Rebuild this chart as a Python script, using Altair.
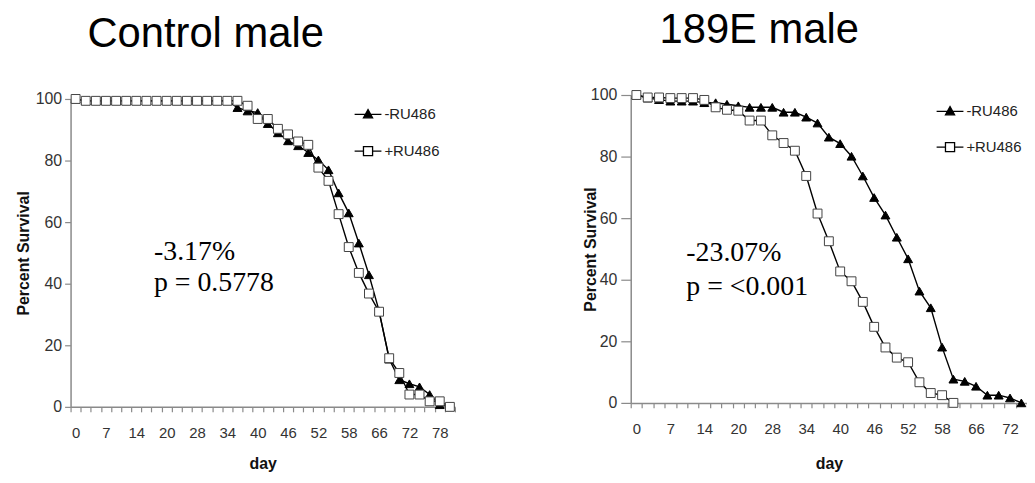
import altair as alt
import pandas as pd

# ---------------- data ----------------
series = ["-RU486", "+RU486"]

days_ctrl = [0, 2, 5, 7, 9, 12, 14, 16, 18, 20, 23, 26, 28, 30, 32, 34, 36, 38, 40,
             42, 44, 46, 48, 50, 52, 54, 56, 58, 61, 64, 66, 68, 70, 72, 74, 76, 78, 80]
days_189e = [0, 2, 5, 7, 9, 12, 14, 16, 18, 20, 23, 26, 28, 30, 32, 34, 36, 38, 40,
             42, 44, 46, 48, 50, 52, 54, 56, 58, 61, 64, 66, 68, 70, 72, 74]
tick_labels = [0, 7, 14, 20, 28, 34, 40, 46, 52, 58, 66, 72, 78]

ctrl_minus = [100, 99.4, 99.4, 99.4, 99.4, 99.4, 99.4, 99.4, 99.4, 99.4, 99.4, 99.4,
              99.4, 99.4, 99.4, 99.4, 97.2, 96.1, 95.6, 92.0, 89.0, 86.4, 84.8, 82.6,
              80.2, 77.0, 69.5, 63.0, 53.2, 42.9, 31.2, 15.5, 8.8, 7.5, 6.5, 4.0, 0.7, 0]
ctrl_plus = [100, 99.4, 99.4, 99.4, 99.4, 99.4, 99.4, 99.4, 99.4, 99.4, 99.4, 99.4,
             99.4, 99.4, 99.4, 99.4, 99.4, 97.8, 93.5, 93.5, 90.3, 88.5, 86.2, 85.1,
             77.7, 73.4, 62.6, 51.9, 43.5, 36.8, 30.9, 15.8, 11.0, 4.0, 4.0, 1.8, 1.8, 0]
e189_minus = [100, 99.0, 98.5, 98.0, 98.0, 98.0, 97.5, 97.5, 97.0, 96.5, 96.0, 96.0,
              96.0, 94.4, 94.4, 92.8, 90.9, 86.3, 84.2, 80.1, 73.7, 66.7, 61.0, 53.8,
              46.8, 36.3, 30.9, 18.1, 7.7, 7.0, 5.4, 2.5, 2.5, 1.6, 0]
e189_plus = [100, 99.2, 99.2, 99.0, 99.0, 99.0, 98.4, 96.0, 95.2, 94.9, 91.7, 91.7,
             86.9, 84.4, 81.9, 73.7, 61.5, 52.5, 42.7, 39.5, 32.8, 24.7, 18.0, 14.7,
             13.2, 6.7, 3.2, 2.5, 0]

ctrl_note = ["-3.17%", "p = 0.5778"]
e189_note = ["-23.07%", "p = <0.001"]

# legend symbols: a line with a marker in the middle (unit square -1..1)
PATH_TRI = "M-1,0H1M0,-0.36L0.34,0.26H-0.34Z"
PATH_SQ = "M-1,0H-0.34M0.34,0H1M-0.34,-0.34H0.34V0.34H-0.34Z"

SANS = "Liberation Sans"
SERIF = "Liberation Serif"
AXIS_GREY = "#8a8a8a"


def make_frame(days, minus, plus):
    rows = []
    for name, vals in ((series[0], minus), (series[1], plus)):
        for d, v in zip(days, vals):
            rows.append({"day": d, "pct": v, "series": name})
    return pd.DataFrame(rows)


def panel(days, minus, plus, note, title, width, height, top_gap, title_dx,
          ytick, ylabpad, ytitlepad, xtitlepad, legx, legy, rowpad,
          notex, notey, note_lh):
    df = make_frame(days, minus, plus)
    label_expr = "indexof([%s], datum.value) >= 0 ? datum.label : ''" % ",".join(
        str(t) for t in tick_labels)
    x = alt.X(
        "day:O",
        scale=alt.Scale(type="band", domain=days, paddingInner=0, paddingOuter=0),
        axis=alt.Axis(
            title="day", labelAngle=0, labelExpr=label_expr, labelOverlap=False,
            tickBand="extent", tickSize=5, tickColor=AXIS_GREY, tickWidth=1.2,
            domainColor=AXIS_GREY, domainWidth=1.5, labelPadding=14,
            labelFont=SANS, labelFontSize=15, labelColor="#333",
            titleFont=SANS, titleFontSize=16, titleFontWeight="bold",
            titleColor="#111", titlePadding=xtitlepad, grid=False,
        ),
    )
    y = alt.Y(
        "pct:Q",
        scale=alt.Scale(domain=[0, 100], nice=False, zero=True,
                        range=[height, top_gap]),
        axis=alt.Axis(
            title="Percent Survival", values=[0, 20, 40, 60, 80, 100],
            tickSize=ytick, tickColor=AXIS_GREY, tickWidth=1.2,
            domainColor=AXIS_GREY, domainWidth=1.5, labelPadding=ylabpad,
            labelFont=SANS, labelFontSize=16, labelColor="#333",
            titleFont=SANS, titleFontSize=16, titleFontWeight="bold",
            titleColor="#111", titlePadding=ytitlepad, grid=False,
        ),
    )
    base = alt.Chart(df)
    lines = base.mark_line(color="black", strokeWidth=1.4).encode(
        x=x, y=y, detail="series:N")
    points = base.mark_point(filled=True, opacity=1, strokeWidth=1, size=80).encode(
        x=x, y=y,
        shape=alt.Shape("series:N", scale=alt.Scale(domain=series, range=["triangle-up", "square"]), legend=None),
        fill=alt.Fill("series:N", scale=alt.Scale(domain=series, range=["black", "white"]), legend=None),
        stroke=alt.Stroke("series:N", scale=alt.Scale(domain=series, range=["black", "#444"]), legend=None),
    )
    leg = alt.Legend(
        title=None, orient="none", legendX=legx, legendY=legy,
        symbolSize=729, symbolStrokeColor="black", symbolStrokeWidth=1.3,
        labelFont=SANS, labelFontSize=15, labelColor="#222", labelOffset=2,
        rowPadding=rowpad, symbolOpacity=1,
    )
    legend_layer = base.transform_filter("datum.pct < -1").mark_point(
        filled=True, opacity=1, strokeWidth=1.3).encode(
        x=x, y=y,
        shape=alt.Shape("series:N", scale=alt.Scale(domain=series, range=[PATH_TRI, PATH_SQ]), legend=leg),
        fill=alt.Fill("series:N", scale=alt.Scale(domain=series, range=["black", "white"]), legend=leg),
        stroke=alt.Stroke("series:N", scale=alt.Scale(domain=series, range=["black", "black"]), legend=leg),
    )
    note_layer = alt.Chart(pd.DataFrame({"t": ["\n".join(note)]})).mark_text(
        font=SERIF, fontSize=28, color="black", align="left", baseline="alphabetic",
        lineBreak="\n", lineHeight=note_lh,
    ).encode(text="t:N", x=alt.value(notex), y=alt.value(notey))

    return alt.layer(lines, points, legend_layer, note_layer).resolve_scale(
        shape="independent", fill="independent", stroke="independent"
    ).properties(
        width=width, height=height,
        title=alt.TitleParams(
            text=title, anchor="start", frame="group", dx=title_dx,
            offset=35, font=SANS, fontSize=42, fontWeight="normal",
            color="black"),
    )


left = panel(days_ctrl, ctrl_minus, ctrl_plus, ctrl_note, "Control male", 387, 314, 4,
             17, 6, 3, 4, 15, 285, 5, 14, 84, 166, 31.5)
right = panel(days_189e, e189_minus, e189_plus, e189_note, "189E male", 399, 310, 0,
              29, 10, 4, -8, 19, 307, 2, 13, 56, 167, 34.5)

chart = alt.hconcat(left, right, spacing=126).properties(
    padding={"left": 7, "top": 0, "right": -1, "bottom": 0}
).configure_view(strokeWidth=0)

chart.save("out.html", embed_options={"renderer": "svg", "actions": False})
